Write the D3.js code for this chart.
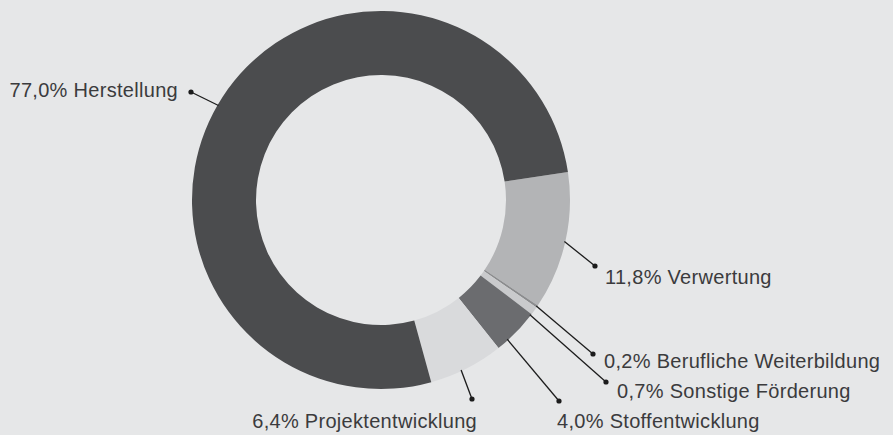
<!DOCTYPE html>
<html lang="de">
<head>
<meta charset="UTF-8">
<title>Förderung</title>
<script src="https://cdn.jsdelivr.net/npm/d3@7"></script>
<style>
  html, body { margin: 0; padding: 0; background: #e6e7e8; }
  svg { display: block; }
  .lbl { font-family: "Liberation Sans", Arial, sans-serif; font-size: 20px; letter-spacing: 0.3px; fill: #3b3b3d; }
</style>
</head>
<body>
<svg id="chart" width="893" height="435"></svg>
<script>
// data, clockwise from the Verwertung slice
const categories = ['Verwertung', 'Berufliche Weiterbildung', 'Sonstige Förderung', 'Stoffentwicklung', 'Projektentwicklung', 'Herstellung']
const shares = [11.8, 0.2, 0.7, 4.0, 6.4, 77.0]
const labelTexts = ['11,8% Verwertung', '0,2% Berufliche Weiterbildung', '0,7% Sonstige Förderung', '4,0% Stoffentwicklung', '6,4% Projektentwicklung', '77,0% Herstellung']
const colors = ['#b3b4b6', '#8b8c8e', '#c9cacc', '#6b6c6f', '#d9dadc', '#4b4c4e']

// label layout (relative to center): dot position, text position, anchor
const labelLayout = [
    { dot: [214, 66], text: [224, 84], anchor: 'start' },
    { dot: [212, 154], text: [223, 168], anchor: 'start' },
    { dot: [225, 182], text: [236, 198], anchor: 'start' },
    { dot: [178, 201], text: [176, 228], anchor: 'start' },
    { dot: [91, 199], text: [96, 228], anchor: 'end' },
    { dot: [-190, -108], text: [-203, -103], anchor: 'end' }
]

const cx = 381, cy = 200, outerR = 189, innerR = 125

const svg = d3.select('#chart')
const g = svg.append('g').attr('transform', `translate(${cx},${cy})`)

const start = 81.5 * Math.PI / 180
const pie = d3.pie().sort(null).startAngle(start).endAngle(start + 2 * Math.PI)
const arcs = pie(shares)
const arc = d3.arc().innerRadius(innerR).outerRadius(outerR)

g.selectAll('path.slice')
    .data(arcs)
    .join('path')
    .attr('class', 'slice')
    .attr('d', arc)
    .attr('fill', (d, i) => colors[i])

// leader lines from outer edge at slice middle
const anchorAngle = [0, 0, 0.03, 0.06, 0.03, -0.05]
arcs.forEach((d, i) => {
    const a = (d.startAngle + d.endAngle) / 2 + anchorAngle[i]
    const sx = Math.sin(a) * (outerR - 1)
    const sy = -Math.cos(a) * (outerR - 1)
    const L = labelLayout[i]

    g.append('line')
        .attr('x1', sx).attr('y1', sy)
        .attr('x2', L.dot[0]).attr('y2', L.dot[1])
        .attr('stroke', '#1c1c1c')
        .attr('stroke-width', 1.3)

    g.append('circle')
        .attr('cx', L.dot[0]).attr('cy', L.dot[1])
        .attr('r', 2.6)
        .attr('fill', '#1c1c1c')

    g.append('text')
        .attr('class', 'lbl')
        .attr('x', L.text[0]).attr('y', L.text[1])
        .attr('text-anchor', L.anchor)
        .text(labelTexts[i])
})
</script>
</body>
</html>
